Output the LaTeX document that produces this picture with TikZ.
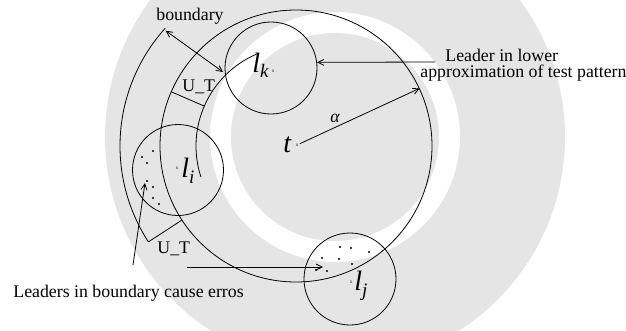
\documentclass[tikz,border=0pt]{standalone}
\usepackage{fontspec}
\setmainfont{Liberation Serif}
\usetikzlibrary{arrows.meta}
\begin{document}
\begin{tikzpicture}[x=1pt,y=1pt,line width=0.8pt,
  arr/.style={-{Straight Barb[length=6pt,width=6pt]}},
  dblarr/.style={{Straight Barb[length=6pt,width=6pt]}-{Straight Barb[length=6pt,width=6pt]}},
  txt/.style={font=\fontsize{17.8}{14}\selectfont,inner sep=0pt},
  big/.style={font=\fontsize{28}{28}\selectfont\itshape,inner sep=0pt},
  xm/.style={font=\fontsize{5}{5}\selectfont,inner sep=0pt,outer sep=1.5pt},
  ring/.style={circle,draw,inner sep=0pt},
  dot/.style={circle,fill,inner sep=0pt,minimum size=2.3pt},
  wm/.style={fill=black!10,draw=none}]
\useasboundingbox (0,0) rectangle (626,-330);
% faint background watermark
\begin{scope}
\clip (0,0) rectangle (626,-330);
\fill[wm,even odd rule] (335,-137) circle[radius=230] (335,-137) circle[radius=125];
\fill[wm] (335,-137) circle[radius=104];
\end{scope}
\coordinate (O) at (296,-146);
% circles
\node[ring,minimum size=272pt] (tc) at (O) {};
\node[ring,minimum size=92pt] (ck) at (271,-68) {};
\node[ring,minimum size=91pt] (ci) at (178,-170) {};
\node[ring,minimum size=92pt] (cj) at (350,-279) {};
% boundary arcs
\draw (O) ++(138:176) arc[start angle=138,end angle=213,radius=176];
\draw (O) ++(113:100) arc[start angle=113,end angle=198,radius=100];
% U_T width bars
\path (O) ++(156.5:100) coordinate (ua1);
\path (O) ++(156.5:136) coordinate (ua2);
\path (O) ++(213:136) coordinate (ub1);
\path (O) ++(213:176) coordinate (ub2);
\draw (ua1) -- (ua2);
\draw (ub1) -- (ub2);
\node[txt,anchor=base west] (ut1) at (182,-91) {U\_T};
\node[txt,anchor=base west] (ut2) at (157,-253) {U\_T};
% boundary label and arrow
\node[txt,anchor=base] (bnd) at (190,-20) {boundary};
\path (O) ++(138.5:174) coordinate (bA);
\path (O) ++(134.6:104) coordinate (bB);
\draw[dblarr] (bA) -- (bB);
% leader labels
\node[big,anchor=base west] (lk) at (252,-72) {l\raisebox{-5pt}{\fontsize{19}{19}\selectfont k}};
\node[xm] (xk) at (273,-71) {x};
\node[big,anchor=base west] (li) at (181,-177) {l\raisebox{-6pt}{\fontsize{19}{19}\selectfont i}};
\node[xm] (xi) at (177,-168) {x};
\node[big,anchor=base west] (lj) at (354,-290) {l\raisebox{-6pt}{\fontsize{19}{19}\selectfont j}};
\node[xm] (xj) at (351,-282) {x};
\node[big,anchor=base west] (tl) at (283,-152) {t};
\node[xm] (tx) at (297,-145) {x};
% alpha radius
\draw[arr] (tx) -- (tc.25);
\node[txt,font=\fontsize{17.8}{20}\selectfont\itshape,anchor=base] (al) at (335,-122) {α};
% leader in lower approximation
\node[txt,align=left,anchor=north west] (ld) at (420,-49) {\hspace*{25pt}Leader in lower\\[1.5pt]approximation of test pattern};
\coordinate (ldS) at (435,-62);
\draw[arr] (ldS) -- (ck.7.5);
% dots in l_i
\foreach \p [count=\n] in {(142,-157),(153,-151),(147,-163),(147,-181),(153,-187),(153,-198),(159,-204)}
  \node[dot] (di\n) at \p {};
% dots in l_j
\foreach \p [count=\n] in {(340,-247),(351,-248),(369,-252),(322,-258),(339,-259),(352,-264),(316,-270),(327,-271)}
  \node[dot] (dj\n) at \p {};
% leaders in boundary
\node[txt,anchor=base west] (lead) at (13,-297) {Leaders in boundary cause erros};
\coordinate (la1) at (133,-265);
\coordinate (la2) at (145,-183);
\draw[arr] (la1) -- (la2);
\coordinate (lb1) at (187,-267);
\coordinate (lb2) at (323,-267);
\draw[arr] (lb1) -- (lb2);
\end{tikzpicture}
\end{document}
